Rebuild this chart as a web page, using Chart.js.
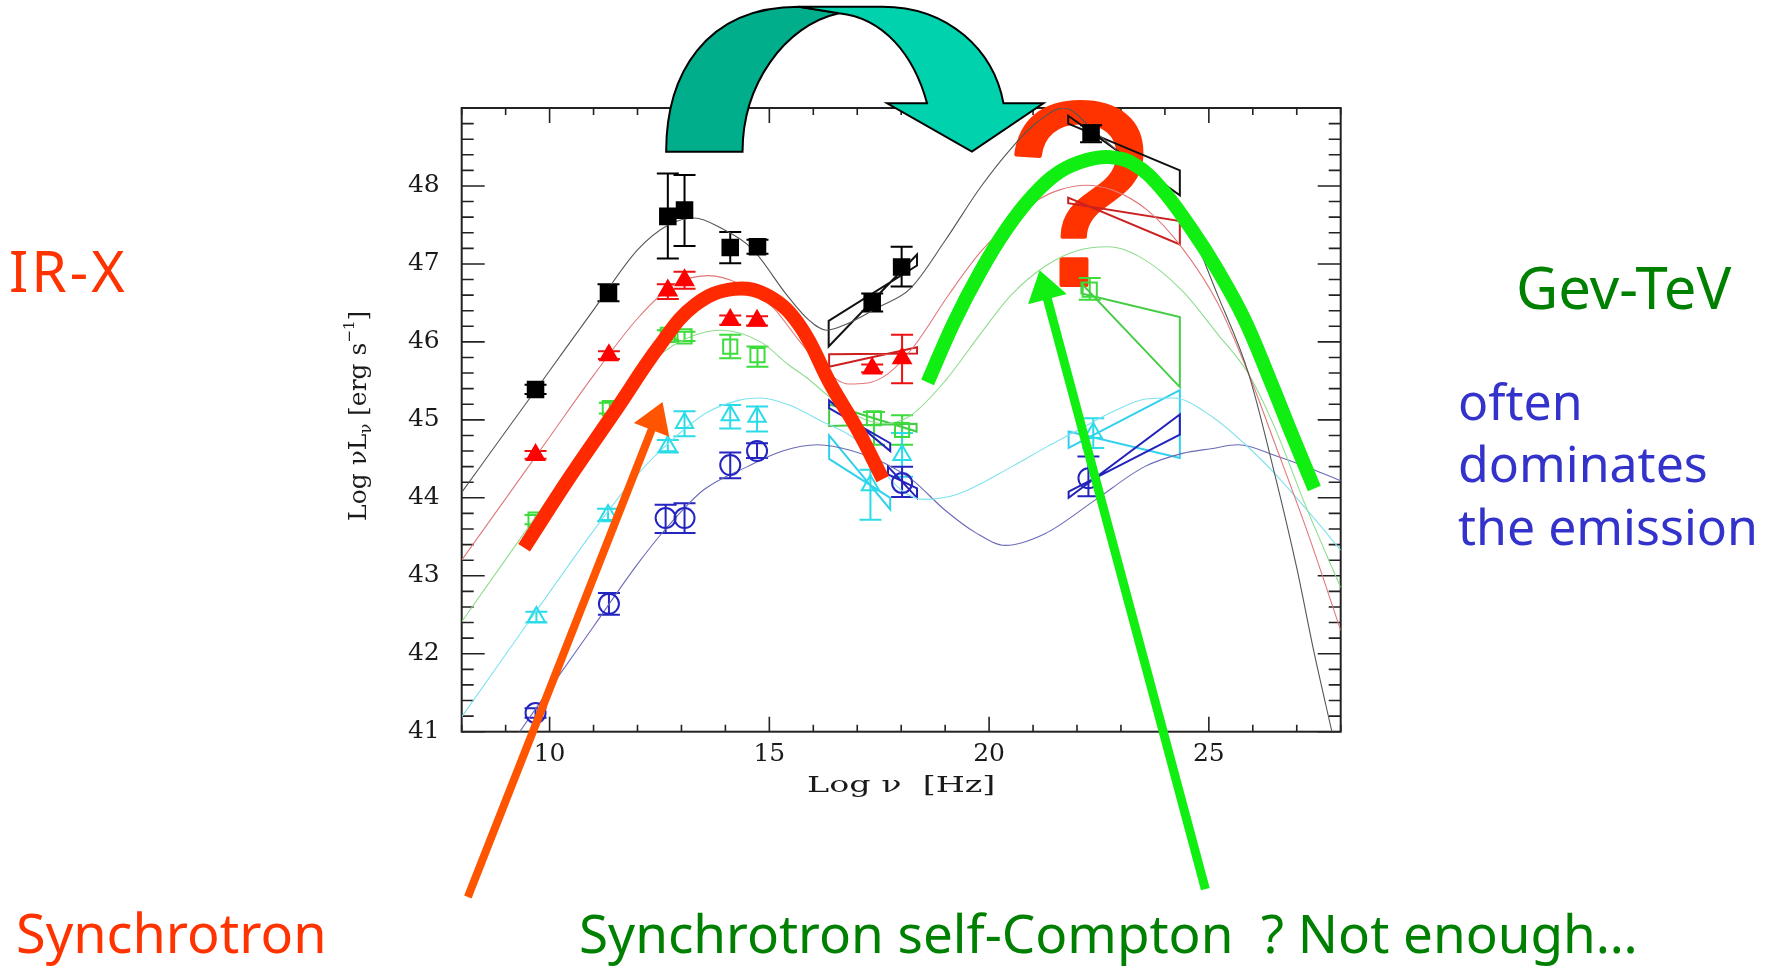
<!DOCTYPE html>
<html><head><meta charset="utf-8">
<script src="https://cdn.jsdelivr.net/npm/chart.js@4.4.1/dist/chart.umd.min.js"></script>
<style>
html,body{margin:0;padding:0;background:#fff;}
#wrap{position:relative;width:1781px;height:970px;overflow:hidden;background:#fff;}
#wrap canvas{position:absolute;left:0;top:0;}
.t{position:absolute;font-family:"Noto Sans",sans-serif;line-height:1;white-space:nowrap;}
</style></head><body>
<div id="wrap">
<canvas id="c" width="1781" height="970"></canvas>
<div class="t" style="left:9px;top:242px;font-size:57px;letter-spacing:3px;color:#ff3300;">IR-X</div>
<div class="t" style="left:1516px;top:258px;font-size:58px;color:#008000;">Gev-TeV</div>
<div class="t" style="left:1458px;top:376px;font-size:50px;color:#3333cc;">often</div>
<div class="t" style="left:1458px;top:438px;font-size:50px;color:#3333cc;">dominates</div>
<div class="t" style="left:1458px;top:501px;font-size:50px;color:#3333cc;">the emission</div>
<div class="t" style="left:16px;top:905px;font-size:54px;color:#ff3300;">Synchrotron</div>
<div class="t" style="left:579px;top:906px;font-size:53px;color:#008000;">Synchrotron self-Compton &nbsp;? Not enough…</div>
</div>
<script>
// ---------- axis ticks ----------
const xTickValues = [10, 15, 20, 25];
const yTickValues = [41, 42, 43, 44, 45, 46, 47, 48];

// ---------- data points (log nu, log nuL) with error limits ----------
const blackX  = [9.68, 11.34, 12.69, 13.07, 14.11, 14.73, 17.34, 18.01, 22.32];
const blackY  = [45.39, 46.63, 47.61, 47.69, 47.21, 47.22, 46.51, 46.96, 48.68];
const blackLo = [45.33, 46.52, 47.07, 47.23, 47.01, 47.13, 46.39, 46.71, 48.56];
const blackHi = [45.45, 46.74, 48.16, 48.14, 47.41, 47.31, 46.62, 47.22, 48.78];

const redX  = [9.68, 11.35, 12.69, 13.07, 14.11, 14.72, 17.34, 18.02];
const redY  = [44.55, 45.83, 46.66, 46.79, 46.28, 46.27, 45.66, 45.79];
const redLo = [44.50, 45.78, 46.55, 46.68, 46.22, 46.21, 45.61, 45.47];
const redHi = [44.60, 45.88, 46.74, 46.90, 46.34, 46.33, 45.71, 46.09];

const greenX  = [9.68, 11.37, 12.69, 13.07, 14.11, 14.73, 17.38, 18.02, 22.29];
const greenY  = [43.72, 45.15, 46.09, 46.07, 45.94, 45.83, 45.02, 44.87, 46.67];
const greenLo = [43.66, 45.08, 46.03, 46.01, 45.79, 45.68, 44.68, 44.68, 46.54];
const greenHi = [43.78, 45.22, 46.15, 46.13, 46.09, 45.94, 45.10, 45.06, 46.82];

const cyanX  = [9.70, 11.33, 12.69, 13.07, 14.11, 14.72, 17.30, 18.02, 22.37];
const cyanY  = [42.47, 43.78, 44.66, 44.96, 45.06, 45.04, 44.16, 44.55, 44.83];
const cyanLo = [42.40, 43.70, 44.58, 44.79, 44.89, 44.85, 43.72, 44.27, 44.64];
const cyanHi = [42.54, 43.86, 44.74, 45.11, 45.19, 45.17, 44.36, 44.83, 45.02];

const blueX  = [9.68, 11.35, 12.64, 13.07, 14.11, 14.72, 18.02, 22.26];
const blueY  = [41.24, 42.64, 43.74, 43.74, 44.42, 44.60, 44.19, 44.25];
const blueLo = [41.18, 42.50, 43.55, 43.55, 44.25, 44.51, 44.01, 44.02];
const blueHi = [41.30, 42.78, 43.91, 43.93, 44.58, 44.70, 44.40, 44.53];

// ---------- spectral bow-ties: [x1, x2, yTopLeft, yBotLeft, yTopRight, yBotRight] ----------
const blackBowX  = [16.35, 18.36, 46.27, 45.94, 47.12, 46.98];
const blackBowG  = [21.80, 24.34, 48.90, 48.80, 48.20, 47.88];
const redBowX    = [16.36, 18.36, 45.84, 45.68, 45.93, 45.85];
const redBowG    = [21.80, 24.34, 47.85, 47.78, 47.55, 47.25];
const greenBowX  = [16.36, 18.35, 45.20, 44.92, 44.95, 44.85];
const greenBowG  = [22.10, 24.34, 46.75, 46.62, 46.32, 45.42];
const cyanBowX   = [16.36, 17.75, 44.80, 44.50, 44.00, 43.85];
const cyanBowG   = [21.81, 24.34, 44.85, 44.64, 45.38, 44.51];
const blueBowX   = [16.36, 17.75, 45.25, 45.15, 44.70, 44.60];
const blueBowX2  = [17.70, 18.36, 44.40, 44.30, 44.12, 44.00];
const blueBowG   = [21.81, 24.34, 44.08, 44.00, 45.07, 44.81];

// ---------- model curves ----------
const blackCurveX = [8, 9, 10, 11, 12, 12.7, 13.3, 13.9, 14.6, 15.4, 15.9, 16.3, 16.8, 17.5, 18.2, 19, 19.8, 20.5, 21.1, 21.7, 22.4, 23.5, 24.4, 25.2, 25.9, 26.5, 27, 27.4, 27.8];
const blackCurveY = [44.07, 44.85, 45.63, 46.41, 47.18, 47.5, 47.59, 47.46, 47.2, 46.6, 46.28, 46.15, 46.24, 46.45, 46.68, 47.3, 47.98, 48.48, 48.82, 49.0, 48.7, 48.15, 47.65, 46.6, 45.6, 44.3, 43.1, 42.0, 41.0];
const redCurveX = [8, 9, 10, 11, 12, 12.8, 13.6, 14.3, 15.07, 15.7, 16.2, 16.8, 17.2, 17.72, 18.3, 19.1, 19.8, 20.5, 21.05, 21.6, 22.2, 22.8, 23.6, 24.4, 25.2, 25.9, 26.5, 27.25, 28];
const redCurveY = [43.2, 43.99, 44.78, 45.57, 46.3, 46.72, 46.85, 46.75, 46.45, 46.0, 45.68, 45.46, 45.47, 45.6, 45.95, 46.62, 47.15, 47.55, 47.8, 47.95, 48.01, 47.95, 47.69, 47.2, 46.5, 45.6, 44.7, 43.55, 42.3];
const greenCurveX = [8, 9, 10, 11, 12, 12.8, 13.9, 14.8, 15.45, 15.83, 16.4, 17.0, 17.6, 18.2, 19.0, 19.8, 20.5, 21.3, 22.0, 22.7, 23.4, 24.37, 25.2, 25.89, 26.5, 27.2, 28];
const greenCurveY = [42.41, 43.21, 44.01, 44.81, 45.55, 45.95, 46.15, 46.0, 45.7, 45.55, 45.28, 45.05, 44.95, 45.05, 45.5, 46.1, 46.6, 46.98, 47.17, 47.22, 47.1, 46.67, 46.1, 45.6, 44.9, 43.9, 42.85];
const cyanCurveX = [8, 9, 10, 11, 12, 12.8, 13.6, 14.3, 14.8, 15.45, 16.2, 16.96, 17.5, 18.0, 18.5, 19.3, 20.52, 21.3, 22.03, 22.8, 23.6, 24.2, 25.05, 25.8, 26.57, 27.3, 28];
const cyanCurveY = [41.19, 41.99, 42.79, 43.58, 44.3, 44.75, 45.1, 45.25, 45.28, 45.19, 44.98, 44.75, 44.4, 44.1, 43.98, 44.05, 44.4, 44.65, 44.87, 45.1, 45.27, 45.28, 45.05, 44.7, 44.27, 43.8, 43.33];
const blueCurveX = [9.32, 10, 11, 12, 12.64, 13.5, 14.5, 15.3, 16.1, 16.9, 17.6, 18.25, 19.0, 19.7, 20.37, 21.27, 22.41, 23.54, 24.4, 25.05, 25.66, 26.57, 27.3, 28];
const blueCurveY = [41.0, 41.55, 42.35, 43.15, 43.6, 44.1, 44.4, 44.6, 44.68, 44.6, 44.45, 44.23, 43.84, 43.55, 43.39, 43.54, 43.97, 44.4, 44.57, 44.63, 44.68, 44.53, 44.38, 44.22];

// ---------- hand-drawn overlay marks (in data units) ----------
const redArchX = [9.42, 10.5, 11.5, 12.5, 13.3, 14.2, 15.0, 15.7, 16.4, 17.0, 17.58];
const redArchY = [43.36, 44.3, 45.12, 45.95, 46.47, 46.68, 46.58, 46.2, 45.45, 44.88, 44.24];
const greenArchX = [18.6, 19.2, 19.8, 20.4, 21.0, 21.6, 22.2, 22.75, 23.3, 23.9, 24.6, 25.2, 25.8, 26.4, 26.9, 27.4];
const greenArchY = [45.48, 46.25, 46.9, 47.45, 47.88, 48.18, 48.33, 48.37, 48.28, 47.98, 47.45, 46.92, 46.3, 45.5, 44.8, 44.12];
const orangeArrowXY = [8.14, 38.88, 12.57, 45.23];
const greenArrowXY  = [24.92, 38.98, 21.15, 46.92];
const questionXY = [22.03, 46.73];
// curved teal arrow outline
const tealDarkPath = [[12.652,48.44],[12.652,49.42],[13.52,50.30],[15.676,50.30],[16.584,50.215],[15.336,50.06],[14.39,49.29],[14.39,48.44]];
const tealLightPath = [[15.676,50.30],[17.567,50.30],[19.08,50.30],[20.1,49.74],[20.328,49.06],[21.236,49.06],[19.609,48.44],[17.68,49.06],[18.588,49.06],[18.29,49.68],[17.6,50.155],[16.584,50.215]];

// ---------- build datasets ----------
const P = (xs, ys) => xs.map((x, i) => ({x, y: ys[i]}));
const curve = (xs, ys, color) => ({data: P(xs, ys), showLine: true, pointRadius: 0, borderColor: color, borderWidth: 1.1, cubicInterpolationMode: 'monotone', order: 3});
const pts = (xs, ys, style, r, fill, stroke) => ({data: P(xs, ys), showLine: false, pointStyle: style, pointRadius: r, backgroundColor: fill, borderColor: stroke, borderWidth: 2, order: 2});

const datasets = [
  curve(blackCurveX, blackCurveY, '#555555'),
  curve(redCurveX, redCurveY, '#e07878'),
  curve(greenCurveX, greenCurveY, '#8edc8e'),
  curve(cyanCurveX, cyanCurveY, '#7fe2ee'),
  curve(blueCurveX, blueCurveY, '#6a6ab8'),
  pts(blackX, blackY, 'rect', 11, '#000000', '#000000'),
  pts(redX, redY, 'triangle', 10, '#ff0000', '#ff0000'),
  pts(greenX, greenY, 'rect', 10, 'rgba(0,0,0,0)', '#3ddc3d'),
  pts(cyanX, cyanY, 'triangle', 10, 'rgba(0,0,0,0)', '#2adbe8'),
  pts(blueX, blueY, 'circle', 10, 'rgba(0,0,0,0)', '#2424c0'),
  {data: P(redArchX, redArchY), showLine: true, pointRadius: 0, borderColor: '#ff2a00', borderWidth: 14, tension: 0.4, borderCapStyle: 'butt', order: 1},
  {data: P(greenArchX, greenArchY), showLine: true, pointRadius: 0, borderColor: '#11ee11', borderWidth: 14, tension: 0.4, borderCapStyle: 'butt', order: 1}
];

const errSeries = [
  {x: blackX, lo: blackLo, hi: blackHi, c: '#000000'},
  {x: redX, lo: redLo, hi: redHi, c: '#ee1111'},
  {x: greenX, lo: greenLo, hi: greenHi, c: '#3ddc3d'},
  {x: cyanX, lo: cyanLo, hi: cyanHi, c: '#2adbe8'},
  {x: blueX, lo: blueLo, hi: blueHi, c: '#2424c0'}
];
const bowties = [
  [blackBowX, '#111111'], [blackBowG, '#111111'],
  [redBowX, '#cc2020'], [redBowG, '#cc2020'],
  [greenBowX, '#44cc44'], [greenBowG, '#44cc44'],
  [cyanBowX, '#33d0ee'], [cyanBowG, '#33d0ee'],
  [blueBowX, '#2222bb'], [blueBowX2, '#2222bb'], [blueBowG, '#2222bb']
];

function drawArrow(ctx, x1, y1, x2, y2, color, w, headLen, headW) {
  const dx = x2 - x1, dy = y2 - y1, L = Math.hypot(dx, dy), ux = dx / L, uy = dy / L;
  const bx = x2 - ux * headLen, by = y2 - uy * headLen;
  ctx.strokeStyle = color; ctx.lineWidth = w; ctx.lineCap = 'butt';
  ctx.beginPath(); ctx.moveTo(x1, y1); ctx.lineTo(bx + ux * 2, by + uy * 2); ctx.stroke();
  ctx.fillStyle = color; ctx.beginPath();
  ctx.moveTo(x2, y2);
  ctx.lineTo(bx - uy * headW / 2, by + ux * headW / 2);
  ctx.lineTo(bx + uy * headW / 2, by - ux * headW / 2);
  ctx.closePath(); ctx.fill();
}

const decor = {
  id: 'decor',
  beforeDatasetsDraw(chart) {
    const {ctx, chartArea: a, scales: {x: sx, y: sy}} = chart;
    const X = v => sx.getPixelForValue(v), Y = v => sy.getPixelForValue(v);
    ctx.save();
    // frame and inward ticks
    ctx.strokeStyle = '#222'; ctx.lineWidth = 2;
    ctx.strokeRect(a.left, a.top, a.right - a.left, a.bottom - a.top);
    ctx.lineWidth = 1.6; ctx.beginPath();
    for (let v = 8; v <= 28; v++) {
      const px = X(v), L = xTickValues.includes(v) ? 15 : 7;
      ctx.moveTo(px, a.bottom); ctx.lineTo(px, a.bottom - L);
      ctx.moveTo(px, a.top); ctx.lineTo(px, a.top + L);
    }
    for (let i = 0; i <= 40; i++) {
      const py = Y(41 + i * 0.2), L = (i % 5 === 0) ? 23 : 12;
      ctx.moveTo(a.left, py); ctx.lineTo(a.left + L, py);
      ctx.moveTo(a.right, py); ctx.lineTo(a.right - L, py);
    }
    ctx.stroke();

    // axis titles
    ctx.fillStyle = '#1a1a1a'; ctx.textBaseline = 'alphabetic';
    ctx.save();
    ctx.translate((a.left + a.right) / 2, a.bottom + 60);
    ctx.scale(1.45, 1);
    ctx.font = '23px "DejaVu Serif"'; ctx.textAlign = 'center';
    ctx.fillText('Log ν  [Hz]', 0, 0);
    ctx.restore();

    const parts = [
      {t: 'Log νL', s: 25, dy: 0}, {t: 'ν', s: 16, dy: 5},
      {t: ' [erg s', s: 25, dy: 0}, {t: '−1', s: 15, dy: -12}, {t: ']', s: 25, dy: 0}
    ];
    let total = 0;
    parts.forEach(p => { ctx.font = p.s + 'px "DejaVu Serif"'; p.w = ctx.measureText(p.t).width; total += p.w; });
    ctx.save();
    ctx.translate(a.left - 96, (a.top + a.bottom) / 2 - 4);
    ctx.rotate(-Math.PI / 2);
    ctx.textAlign = 'left';
    let cx = -total / 2;
    parts.forEach(p => { ctx.font = p.s + 'px "DejaVu Serif"'; ctx.fillText(p.t, cx, p.dy); cx += p.w; });
    ctx.restore();

    // big question mark
    ctx.font = '262px "Liberation Sans"'; ctx.fillStyle = '#ff3300'; ctx.strokeStyle = '#ff3300';
    ctx.lineWidth = 4; ctx.lineJoin = 'round'; ctx.textAlign = 'center';
    ctx.fillText('?', X(questionXY[0]), Y(questionXY[1]));
    ctx.strokeText('?', X(questionXY[0]), Y(questionXY[1]));

    // error bars
    ctx.lineWidth = 2;
    errSeries.forEach(s => {
      ctx.strokeStyle = s.c; ctx.beginPath();
      s.x.forEach((xv, i) => {
        const px = X(xv), p1 = Y(s.lo[i]), p2 = Y(s.hi[i]);
        ctx.moveTo(px, p1); ctx.lineTo(px, p2);
        ctx.moveTo(px - 11, p1); ctx.lineTo(px + 11, p1);
        ctx.moveTo(px - 11, p2); ctx.lineTo(px + 11, p2);
      });
      ctx.stroke();
    });
    // bow-ties
    ctx.lineJoin = 'miter';
    bowties.forEach(([b, c]) => {
      ctx.strokeStyle = c; ctx.lineWidth = 2; ctx.beginPath();
      ctx.moveTo(X(b[0]), Y(b[2]));
      ctx.lineTo(X(b[1]), Y(b[5]));
      ctx.lineTo(X(b[1]), Y(b[4]));
      ctx.lineTo(X(b[0]), Y(b[3]));
      ctx.closePath(); ctx.stroke();
    });
    ctx.restore();
  },
  afterDatasetsDraw(chart) {
    const {ctx, scales: {x: sx, y: sy}} = chart;
    const X = v => sx.getPixelForValue(v), Y = v => sy.getPixelForValue(v);
    ctx.save();
    drawArrow(ctx, X(orangeArrowXY[0]), Y(orangeArrowXY[1]), X(orangeArrowXY[2]), Y(orangeArrowXY[3]), '#ff5500', 8, 30, 38);
    drawArrow(ctx, X(greenArrowXY[0]), Y(greenArrowXY[1]), X(greenArrowXY[2]), Y(greenArrowXY[3]), '#11ee11', 9, 30, 40);
    // teal curved arrow
    const d = tealDarkPath.map(p => [X(p[0]), Y(p[1])]);
    ctx.beginPath();
    ctx.moveTo(...d[0]);
    ctx.bezierCurveTo(...d[1], ...d[2], ...d[3]);
    ctx.lineTo(...d[4]);
    ctx.bezierCurveTo(...d[5], ...d[6], ...d[7]);
    ctx.closePath();
    ctx.fillStyle = '#00ae8c'; ctx.fill();
    ctx.strokeStyle = '#000'; ctx.lineWidth = 2; ctx.lineJoin = 'miter'; ctx.stroke();
    const l = tealLightPath.map(p => [X(p[0]), Y(p[1])]);
    ctx.beginPath();
    ctx.moveTo(...l[0]);
    ctx.lineTo(...l[1]);
    ctx.bezierCurveTo(...l[2], ...l[3], ...l[4]);
    ctx.lineTo(...l[5]); ctx.lineTo(...l[6]); ctx.lineTo(...l[7]); ctx.lineTo(...l[8]);
    ctx.bezierCurveTo(...l[9], ...l[10], ...l[11]);
    ctx.closePath();
    ctx.fillStyle = '#00d2ad'; ctx.fill();
    ctx.stroke();
    ctx.restore();
  }
};

new Chart(document.getElementById('c'), {
  type: 'scatter',
  data: {datasets},
  options: {
    responsive: false,
    animation: false,
    events: [],
    layout: {padding: {left: 341.7, right: 440.3, top: 108, bottom: 178.3}},
    plugins: {legend: {display: false}, tooltip: {enabled: false}},
    scales: {
      x: {
        type: 'linear', min: 8, max: 28,
        afterFit: s => { s.height = 60; },
        afterBuildTicks: s => { s.ticks = xTickValues.map(v => ({value: v})); },
        grid: {display: false, drawTicks: false}, border: {display: false},
        ticks: {font: {family: 'DejaVu Serif', size: 25}, color: '#1a1a1a', padding: 8, maxRotation: 0}
      },
      y: {
        type: 'linear', min: 41, max: 49,
        afterFit: s => { s.width = 120; },
        afterBuildTicks: s => { s.ticks = yTickValues.map(v => ({value: v})); },
        grid: {display: false, drawTicks: false}, border: {display: false},
        ticks: {font: {family: 'DejaVu Serif', size: 25}, color: '#1a1a1a', padding: 22}
      }
    }
  },
  plugins: [decor]
});
</script>
</body></html>
